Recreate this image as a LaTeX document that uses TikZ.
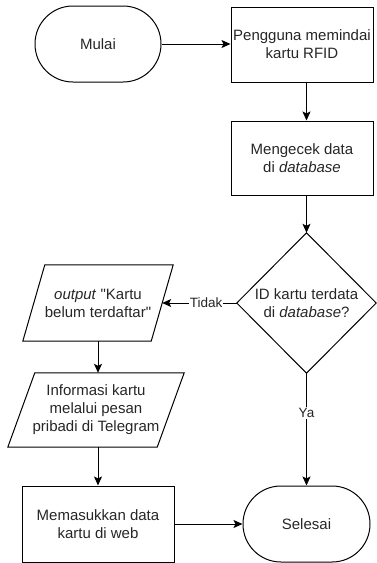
\documentclass[tikz,border=0pt]{standalone}
\usepackage{fontspec}
\setmainfont{Liberation Sans}[Ligatures=TeXOff]
\usetikzlibrary{arrows.meta,calc}
\begin{document}
\begin{tikzpicture}[x=1pt,y=-1pt,
  every node/.style={font=\fontsize{15pt}{18pt}\selectfont, text=black!85, align=center},
  ln/.style={line width=1pt},
  proc/.style={draw, ln, minimum width=142pt, minimum height=75pt, inner sep=0pt},
  term/.style={draw, ln, rounded corners=37.9pt, minimum width=126pt, minimum height=76pt, inner sep=0pt},
  holder/.style={minimum width=#1, inner sep=0pt},
  arr/.style={draw, ln, -{Stealth[length=9pt,width=8pt,inset=2pt]}},
  lbl/.style={fill=white, font=\fontsize{13.5pt}{16pt}\selectfont, inner sep=1pt}
]
\useasboundingbox (0,0) rectangle (377,563);

% nodes
\node[term] (start) at (98,44) {Mulai};
\node[proc] (scan) at (302,44.5) {Pengguna memindai\\kartu RFID};
\node[proc, minimum height=74pt] (check) at (302,158) {Mengecek data\\di \textit{database}};

\node[holder=139pt, minimum height=140pt] (dec) at (306.5,303) {ID kartu terdata\\di \textit{database}?};
\draw[ln] (dec.north) -- (dec.east) -- (dec.south) -- (dec.west) -- cycle;

\node[holder=150pt, minimum height=76pt] (out1) at (98,303) {\textit{output} "Kartu\\belum terdaftar"};
\draw[ln] ([xshift=22pt]out1.north west) -- (out1.north east) -- ([xshift=-22pt]out1.south east) -- (out1.south west) -- cycle;

\node[holder=176pt, minimum height=74pt] (info) at (96,410) {Informasi kartu\\melalui pesan\\pribadi di Telegram};
\draw[ln] ([xshift=27pt]info.north west) -- (info.north east) -- ([xshift=-27pt]info.south east) -- (info.south west) -- cycle;

\node[proc, minimum width=152pt, minimum height=76pt] (web) at (98,524) {Memasukkan data\\kartu di web};
\node[term, minimum width=127pt] (end) at (306.5,524) {Selesai};

\coordinate (out1r) at ($(out1.east)+(-11,0)$);

% connectors
\draw[arr] (start.east) -- (start.east -| scan.west);
\draw[arr] (scan.south -| dec) -- (check.north -| dec);
\draw[arr] (check.south -| dec) -- (dec.north);
\draw[arr] (dec.west) -- node[lbl, pos=0.41] {Tidak} (out1r);
\draw[arr] (out1.south) -- (out1.south |- info.north);
\draw[arr] (info.south -| web) -- (web.north);
\draw[arr] (dec.south) -- node[lbl, pos=0.354] {Ya} (end.north);
\draw[arr] (web.east) -- (end.west);
\end{tikzpicture}
\end{document}
